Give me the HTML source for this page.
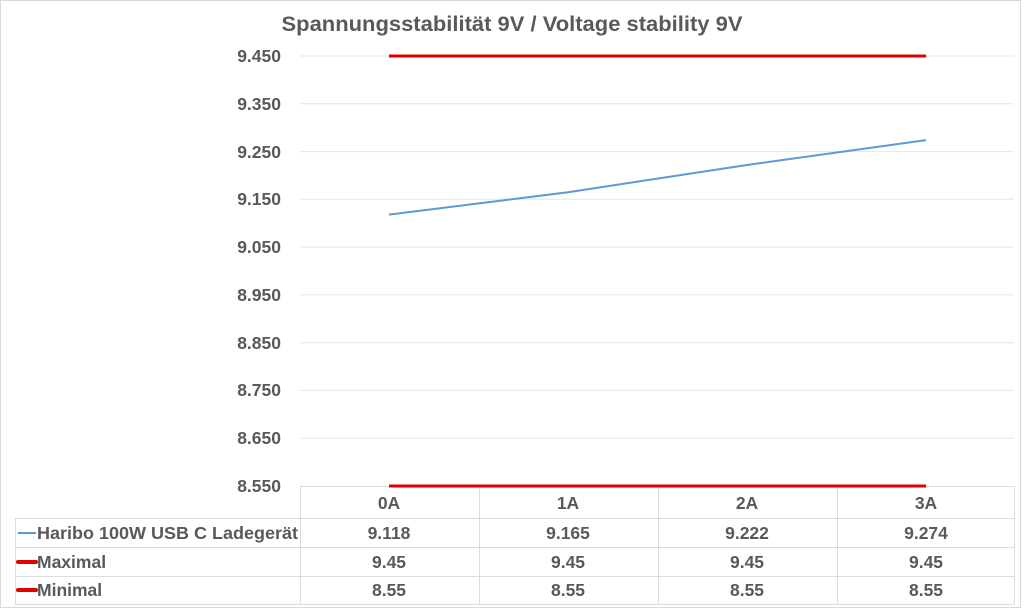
<!DOCTYPE html>
<html><head><style>
body{margin:0;width:1024px;height:609px;background:#fff;overflow:hidden}
svg text{font-family:"Liberation Sans",sans-serif;font-weight:bold;fill:#595959}
</style></head><body>
<svg width="1024" height="609" viewBox="0 0 1024 609">
<rect x="0.5" y="0.5" width="1020" height="607" fill="#fff" stroke="#d9d9d9"/>
<text x="512" y="31" font-size="21.5" text-anchor="middle" textLength="461" lengthAdjust="spacingAndGlyphs">Spannungsstabilität 9V / Voltage stability 9V</text>
<g stroke="#e6e6e6" stroke-width="1">
<line x1="300" x2="1014" y1="56" y2="56"/><line x1="300" x2="1014" y1="103.8" y2="103.8"/>
<line x1="300" x2="1014" y1="151.6" y2="151.6"/><line x1="300" x2="1014" y1="199.3" y2="199.3"/>
<line x1="300" x2="1014" y1="247.1" y2="247.1"/><line x1="300" x2="1014" y1="294.9" y2="294.9"/>
<line x1="300" x2="1014" y1="342.7" y2="342.7"/><line x1="300" x2="1014" y1="390.4" y2="390.4"/>
<line x1="300" x2="1014" y1="438.2" y2="438.2"/>
</g>
<g font-size="17.5" text-anchor="end">
<text x="281" y="62">9.450</text><text x="281" y="110">9.350</text><text x="281" y="158">9.250</text>
<text x="281" y="205">9.150</text><text x="281" y="253">9.050</text><text x="281" y="301">8.950</text>
<text x="281" y="349">8.850</text><text x="281" y="396">8.750</text><text x="281" y="444">8.650</text>
<text x="281" y="492">8.550</text>
</g>
<g stroke="#dcdcdc" stroke-width="1" fill="none">
<line x1="300" x2="1014" y1="486.5" y2="486.5"/>
<line x1="15" x2="1014" y1="518.5" y2="518.5"/>
<line x1="15" x2="1014" y1="547.5" y2="547.5"/>
<line x1="15" x2="1014" y1="576.5" y2="576.5"/>
<line x1="15" x2="1014" y1="604.5" y2="604.5"/>
<line x1="15.5" x2="15.5" y1="518" y2="605"/>
<line x1="300.5" x2="300.5" y1="486" y2="605"/>
<line x1="479.5" x2="479.5" y1="486" y2="605"/>
<line x1="658.5" x2="658.5" y1="486" y2="605"/>
<line x1="837.5" x2="837.5" y1="486" y2="605"/>
<line x1="1014.5" x2="1014.5" y1="486" y2="605"/>
</g>
<line x1="389" x2="926" y1="56" y2="56" stroke="#e00000" stroke-width="3"/>
<line x1="389" x2="926" y1="486" y2="486" stroke="#e00000" stroke-width="3"/>
<polyline points="389,214.6 568,192.2 747,165 926,140.1" fill="none" stroke="#5b9bd5" stroke-width="2"/>
<g font-size="17.5" text-anchor="middle">
<text x="389" y="509">0A</text><text x="568" y="509">1A</text><text x="747" y="509">2A</text><text x="926" y="509">3A</text>
<text x="389" y="539">9.118</text><text x="568" y="539">9.165</text><text x="747" y="539">9.222</text><text x="926" y="539">9.274</text>
<text x="389" y="568">9.45</text><text x="568" y="568">9.45</text><text x="747" y="568">9.45</text><text x="926" y="568">9.45</text>
<text x="389" y="596">8.55</text><text x="568" y="596">8.55</text><text x="747" y="596">8.55</text><text x="926" y="596">8.55</text>
</g>
<line x1="18" x2="36" y1="533" y2="533" stroke="#5b9bd5" stroke-width="2"/>
<line x1="18" x2="36" y1="562" y2="562" stroke="#e00000" stroke-width="4" stroke-linecap="round"/>
<line x1="18" x2="36" y1="590" y2="590" stroke="#e00000" stroke-width="4" stroke-linecap="round"/>
<g font-size="17.5">
<text x="37" y="539" textLength="261" lengthAdjust="spacingAndGlyphs">Haribo 100W USB C Ladegerät</text>
<text x="37" y="568">Maximal</text>
<text x="37" y="596">Minimal</text>
</g>
</svg>
</body></html>
